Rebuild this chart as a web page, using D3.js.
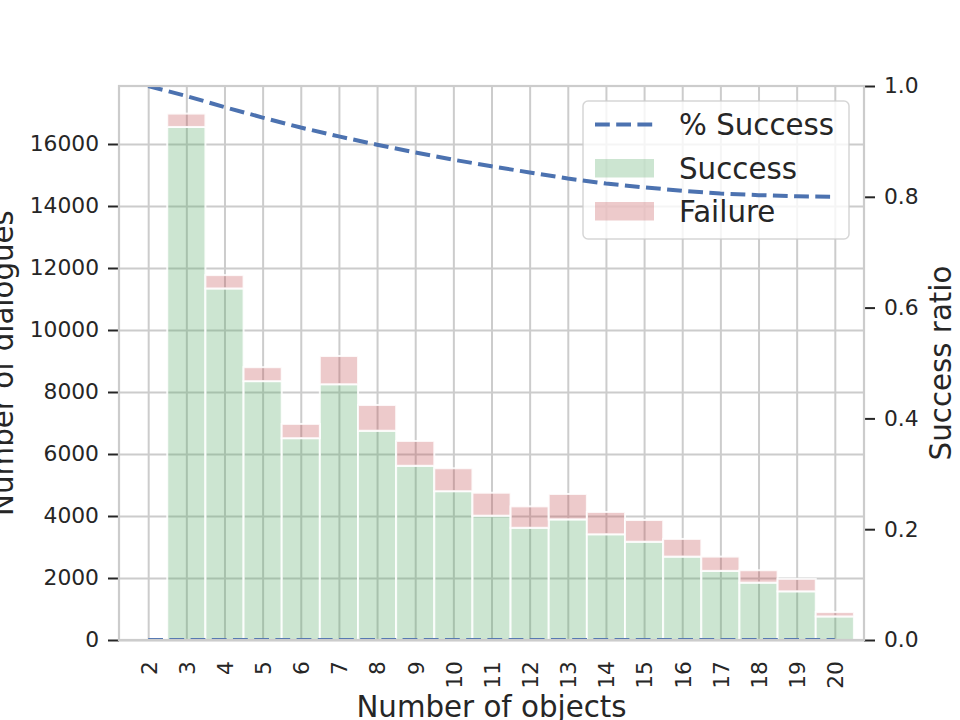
<!DOCTYPE html>
<html>
<head>
<meta charset="utf-8">
<script src="https://cdn.jsdelivr.net/npm/d3@7"></script>
<style>
  html, body { margin: 0; padding: 0; background: #ffffff; }
  svg { display: block; font-family: "DejaVu Sans", sans-serif; }
</style>
</head>
<body>
<svg id="chart" width="960" height="720"></svg>
<script>
// ---- data ----
const objects = [2, 3, 4, 5, 6, 7, 8, 9, 10, 11, 12, 13, 14, 15, 16, 17, 18, 19, 20];
const success = [0, 16550, 11340, 8350, 6510, 8250, 6750, 5620, 4800, 4010, 3620, 3890, 3410, 3170, 2690, 2230, 1850, 1570, 760];
const failure = [0, 430, 430, 450, 460, 910, 830, 800, 740, 740, 690, 820, 720, 700, 570, 460, 400, 400, 140];
const ratio = [1.000, 0.982, 0.962, 0.943, 0.925, 0.909, 0.894, 0.880, 0.867, 0.855, 0.844, 0.833, 0.824, 0.817, 0.811, 0.806, 0.803, 0.801, 0.800];
const countTicks = [0, 2000, 4000, 6000, 8000, 10000, 12000, 14000, 16000];
const ratioTicks = [0.0, 0.2, 0.4, 0.6, 0.8, 1.0];
const legendLabels = ["% Success", "Success", "Failure"];

// ---- layout ----
const L = 119, R = 864, T = 86, B = 640;
const gridColor = "#cccccc", textColor = "#262626";
const lineColor = "#4C72B0", greenColor = "#55A868", redColor = "#C44E52";
const lw = 4, dash = "14.8,6.4";

const svg = d3.select("#chart");

const x = d3.scaleLinear().domain([1.235, 20.765]).range([L, R]);
const y = d3.scaleLinear().domain([0, 17871]).range([B, T]);
const y2 = d3.scaleLinear().domain([0, 1]).range([B, T]);

svg.append("defs").append("clipPath").attr("id", "plotclip")
  .append("rect").attr("x", L).attr("y", T).attr("width", R - L).attr("height", B - T);

// ---- grid ----
const gridV = svg.append("g").attr("transform", `translate(0,${B})`)
  .call(d3.axisBottom(x).tickValues(objects).tickSize(-(B - T)).tickFormat(""));
gridV.select(".domain").remove();
gridV.selectAll("line").attr("stroke", gridColor).attr("stroke-width", 2);

const gridH = svg.append("g").attr("transform", `translate(${L},0)`)
  .call(d3.axisLeft(y).tickValues(countTicks).tickSize(-(R - L)).tickFormat(""));
gridH.select(".domain").remove();
gridH.selectAll("line").attr("stroke", gridColor).attr("stroke-width", 2);

// ---- bars ----
const bars = svg.append("g").attr("clip-path", "url(#plotclip)");
bars.selectAll("rect.succ").data(objects).join("rect")
  .attr("class", "succ")
  .attr("x", d => x(d - 0.5))
  .attr("width", d => x(d + 0.5) - x(d - 0.5))
  .attr("y", (d, i) => y(success[i]))
  .attr("height", (d, i) => y(0) - y(success[i]))
  .attr("fill", greenColor).attr("fill-opacity", 0.3)
  .attr("stroke", "#ffffff").attr("stroke-opacity", 0.85)
  .attr("stroke-width", 2)
  .style("display", (d, i) => success[i] > 0 ? null : "none");

bars.selectAll("rect.fail").data(objects).join("rect")
  .attr("class", "fail")
  .attr("x", d => x(d - 0.5))
  .attr("width", d => x(d + 0.5) - x(d - 0.5))
  .attr("y", (d, i) => y(success[i] + failure[i]))
  .attr("height", (d, i) => y(success[i]) - y(success[i] + failure[i]))
  .attr("fill", redColor).attr("fill-opacity", 0.3)
  .attr("stroke", "#ffffff").attr("stroke-opacity", 0.85)
  .attr("stroke-width", 2)
  .style("display", (d, i) => failure[i] > 0 ? null : "none");

// ---- ratio line on count axis (sits at ~0) ----
const lineCount = d3.line().x((d, i) => x(objects[i])).y(d => y(d));
svg.append("path").datum(ratio)
  .attr("clip-path", "url(#plotclip)")
  .attr("d", lineCount)
  .attr("fill", "none").attr("stroke", lineColor)
  .attr("stroke-width", lw).attr("stroke-dasharray", dash);

// ---- legend ----
const lg = svg.append("g");
lg.append("rect").attr("x", 583).attr("y", 101).attr("width", 266).attr("height", 138)
  .attr("rx", 5).attr("fill", "#ffffff").attr("fill-opacity", 0.8)
  .attr("stroke", "#cccccc").attr("stroke-opacity", 0.8).attr("stroke-width", 1.5);
lg.append("line").attr("x1", 595).attr("x2", 654).attr("y1", 124.5).attr("y2", 124.5)
  .attr("stroke", lineColor).attr("stroke-width", lw).attr("stroke-dasharray", dash);
lg.append("rect").attr("x", 595).attr("y", 159).attr("width", 59).attr("height", 18.5)
  .attr("fill", greenColor).attr("fill-opacity", 0.3);
lg.append("rect").attr("x", 595).attr("y", 202).attr("width", 59).attr("height", 18.5)
  .attr("fill", redColor).attr("fill-opacity", 0.3);
const lgBase = [135, 178.5, 221.5];
legendLabels.forEach((t, i) => {
  lg.append("text").attr("x", 679).attr("y", lgBase[i])
    .attr("font-size", 29.3).attr("fill", textColor).text(t);
});

// ---- ratio line on ratio axis ----
const lineRatio = d3.line().x((d, i) => x(objects[i])).y(d => y2(d));
svg.append("path").datum(ratio)
  .attr("clip-path", "url(#plotclip)")
  .attr("d", lineRatio)
  .attr("fill", "none").attr("stroke", lineColor)
  .attr("stroke-width", lw).attr("stroke-dasharray", dash);

// ---- axes ----
const axL = svg.append("g").attr("transform", `translate(${L},0)`)
  .call(d3.axisLeft(y).tickValues(countTicks).tickSize(11).tickPadding(9).tickFormat(d3.format("d")));
axL.select(".domain").remove();
axL.selectAll("line").attr("stroke", textColor).attr("stroke-width", 2);
axL.selectAll("text").attr("font-size", 21.8).attr("fill", textColor).attr("font-family", "DejaVu Sans");

const axR = svg.append("g").attr("transform", `translate(${R},0)`)
  .call(d3.axisRight(y2).tickValues(ratioTicks).tickSize(11).tickPadding(9).tickFormat(d3.format(".1f")));
axR.select(".domain").remove();
axR.selectAll("line").attr("stroke", textColor).attr("stroke-width", 2);
axR.selectAll("text").attr("font-size", 21.8).attr("fill", textColor).attr("font-family", "DejaVu Sans");

const axB = svg.append("g").attr("transform", `translate(0,${B})`)
  .call(d3.axisBottom(x).tickValues(objects).tickSize(0).tickFormat(d => String(d)));
axB.select(".domain").remove();
axB.selectAll("text")
  .attr("font-size", 21.8).attr("fill", textColor).attr("font-family", "DejaVu Sans")
  .attr("text-anchor", "end")
  .attr("transform", "rotate(-90)")
  .attr("x", -21).attr("y", 0).attr("dy", "0.36em");

// spines
svg.append("rect").attr("x", L).attr("y", T).attr("width", R - L).attr("height", B - T)
  .attr("fill", "none").attr("stroke", gridColor).attr("stroke-width", 2.2);

// ---- axis titles (partly cut at the page edge, as in the reference) ----
svg.append("text").attr("x", (L + R) / 2).attr("y", 717)
  .attr("text-anchor", "middle").attr("font-size", 29.3).attr("fill", textColor)
  .text("Number of objects");
svg.append("text").attr("transform", `translate(13,${(T + B) / 2}) rotate(-90)`)
  .attr("text-anchor", "middle").attr("font-size", 29.3).attr("fill", textColor)
  .text("Number of dialogues");
svg.append("text").attr("transform", `translate(951,${(T + B) / 2}) rotate(-90)`)
  .attr("text-anchor", "middle").attr("font-size", 29.3).attr("fill", textColor)
  .text("Success ratio");
</script>
</body>
</html>
